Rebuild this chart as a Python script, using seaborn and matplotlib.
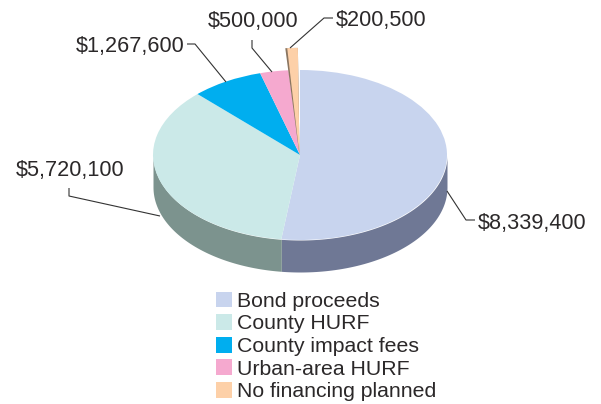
import matplotlib
matplotlib.use("Agg")
import matplotlib.pyplot as plt
from matplotlib.patches import Patch, Wedge
import numpy as np
import seaborn as sns

categories = ["Bond proceeds", "County HURF", "County impact fees", "Urban-area HURF", "No financing planned"]
amounts = [8339400, 5720100, 1267600, 500000, 200500]
amount_labels = ["$8,339,400", "$5,720,100", "$1,267,600", "$500,000", "$200,500"]
top_colors = ["#c8d4ee", "#cbe9e8", "#00aeef", "#f5a9cf", "#fdd0a8"]
side_colors = ["#6f7895", "#7c938e", "#006e96", "#9b6b83", "#8a7560"]

W, H = 601, 404
CX, CY = 300, 155
RX, RY = 147, 85
DEPTH = 32

sns.set_theme(style="white")
plt.rcParams["font.family"] = ["Liberation Sans", "DejaVu Sans"]

fig = plt.figure(figsize=(W / 100, H / 100), dpi=100)
ax = fig.add_axes([0, 0, 1, 1])

# unit circle squashed into an ellipse, so the pie stays a real pie
fracs = np.array(amounts) / sum(amounts)
ends = 90 - 360 * np.cumsum(fracs)
starts = np.r_[90, ends[:-1]]

# rim of the front half
for a, b, c in zip(starts, ends, side_colors):
    t = np.radians(np.linspace(b, a, 200))
    t = t[np.sin(t) <= 0]
    if len(t) == 0:
        continue
    ax.fill_between(np.cos(t), np.sin(t), np.sin(t) - DEPTH / RY, color=c, lw=0, zorder=1)

wedges, _ = ax.pie(amounts, colors=top_colors, startangle=90, counterclock=False,
                   wedgeprops={"lw": 0, "zorder": 2}, frame=True)
ax.set_aspect("auto")
ax.set_xlim(-CX / RX, (W - CX) / RX)
ax.set_ylim((CY - H) / RY, CY / RY)
ax.axis("off")

# no financing slice is pulled taller than the rest, dark edge on its left
last = wedges[-1]
tall = 1.26
apex = (-0.5 / RX, 0)
left = last.theta2 - 0.1
ax.add_patch(Wedge(apex, tall, last.theta1 + 0.5, left, color=side_colors[-1], lw=0, zorder=3))
last.set_center(apex)
last.set_radius(tall)
last.set_theta1(last.theta1 + 0.5)
last.set_theta2(left - 0.6)
last.set_zorder(4)


def to_data(px, py):
    return (px - CX) / RX, (CY - py) / RY


# leader lines, pixel paths
leaders = [
    [(447, 191), (466, 220), (475, 220)],
    [(160, 216), (69, 196), (69, 188)],
    [(226, 82), (195, 44), (187, 44)],
    [(272, 72), (252, 48), (252, 40)],
    [(290, 48), (324, 18), (333, 18)],
]
for path in leaders:
    pts = [to_data(*p) for p in path]
    ax.plot(*zip(*pts), color="#333333", lw=0.8, zorder=5, solid_capstyle="butt")

label_pos = [(478, 223), (16, 170.5), (76, 46.5), (208, 22), (336, 20.5)]
for text, (px, py) in zip(amount_labels, label_pos):
    x, y = to_data(px, py)
    ax.text(x, y, text, ha="left", va="center", fontsize=15.6, color="#2b2829", zorder=6)

handles = [Patch(facecolor=c, edgecolor="none") for c in top_colors]
fig.legend(handles, categories, loc="upper left", bbox_to_anchor=(216 / W, 1 - 291.5 / H),
           frameon=False, fontsize=15.3, labelcolor="#2b2829", handlelength=0.76, handleheight=0.76,
           handletextpad=0.24, labelspacing=0.16, borderpad=0, borderaxespad=0)

fig.savefig("out.png", dpi=100)
